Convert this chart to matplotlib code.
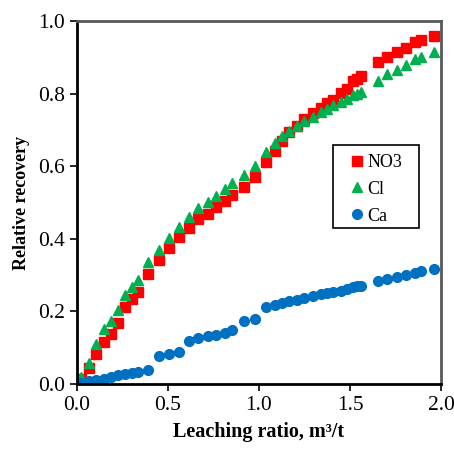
import numpy as np
import matplotlib.pyplot as plt
from matplotlib.patches import Rectangle

plt.rcParams['font.family'] = ['Liberation Serif', 'DejaVu Serif']

# Leaching ratio (m3/t)
ratio = [0.022, 0.066, 0.106, 0.147, 0.185, 0.224, 0.265, 0.304, 0.337, 0.392,
         0.452, 0.507, 0.560, 0.614, 0.667, 0.718, 0.765, 0.815, 0.853, 0.918,
         0.980, 1.038, 1.086, 1.128, 1.166, 1.207, 1.249, 1.295, 1.339, 1.372,
         1.408, 1.449, 1.485, 1.518, 1.540, 1.559, 1.652, 1.702, 1.758, 1.808,
         1.857, 1.888, 1.960]

no3 = [0.014, 0.043, 0.083, 0.116, 0.138, 0.168, 0.211, 0.233, 0.253, 0.303,
       0.342, 0.374, 0.404, 0.430, 0.454, 0.467, 0.487, 0.504, 0.520, 0.542,
       0.569, 0.611, 0.642, 0.669, 0.695, 0.711, 0.731, 0.746, 0.761, 0.773,
       0.782, 0.801, 0.812, 0.835, 0.840, 0.848, 0.886, 0.902, 0.916, 0.927,
       0.941, 0.949, 0.959]

cl = [0.019, 0.059, 0.109, 0.152, 0.174, 0.203, 0.244, 0.267, 0.287, 0.335,
      0.370, 0.403, 0.433, 0.459, 0.485, 0.501, 0.518, 0.537, 0.554, 0.576,
      0.601, 0.638, 0.664, 0.682, 0.698, 0.710, 0.725, 0.736, 0.749, 0.758,
      0.768, 0.777, 0.784, 0.795, 0.800, 0.804, 0.836, 0.853, 0.865, 0.878,
      0.895, 0.901, 0.914]

ca = [0.002, 0.008, 0.012, 0.015, 0.020, 0.024, 0.027, 0.029, 0.033, 0.039,
      0.076, 0.082, 0.089, 0.119, 0.126, 0.131, 0.135, 0.140, 0.148, 0.174,
      0.180, 0.211, 0.218, 0.223, 0.228, 0.231, 0.236, 0.242, 0.247, 0.250,
      0.253, 0.257, 0.262, 0.266, 0.269, 0.271, 0.283, 0.288, 0.295, 0.299,
      0.307, 0.310, 0.318]

fig = plt.figure(figsize=(4.54, 4.49), dpi=100)
ax = fig.add_axes([0.1696, 0.1448, 0.8018, 0.8084])

ax.plot(ratio, no3, 's', color='#FF0000', markersize=6.5, label='NO3')
ax.plot(ratio, cl, '^', color='#00B050', markersize=7.5, label='Cl')
ax.plot(ratio, ca, 'o', color='#0070C0', markersize=7, label='Ca')

ax.set_xlim(0, 2.0)
ax.set_ylim(0, 1.0)
ax.set_xticks(np.arange(0, 2.01, 0.5))
ax.set_yticks(np.arange(0, 1.01, 0.2))
ax.xaxis.set_major_formatter(plt.FormatStrFormatter('%.1f'))
ax.yaxis.set_major_formatter(plt.FormatStrFormatter('%.1f'))
ax.tick_params(direction='out', length=5, width=1.2, labelsize=15.5, pad=3.5)

for s in ['left', 'bottom']:
    ax.spines[s].set_linewidth(2)
    ax.spines[s].set_color('black')
for s in ['top', 'right']:
    ax.spines[s].set_linewidth(2)
    ax.spines[s].set_color('#595959')

ax.set_xlabel('Leaching ratio, m³/t', fontsize=14.5, fontweight='bold', labelpad=5)
ax.set_ylabel('Relative recovery', fontsize=13, fontweight='bold', labelpad=6)

# legend box
ax.add_patch(Rectangle((0.703, 0.430), 0.237, 0.228, transform=ax.transAxes,
                       fill=False, edgecolor='black', linewidth=1.2, zorder=5))
ax.legend(loc='upper left', bbox_to_anchor=(0.745, 0.634), fontsize=13,
          frameon=False, borderpad=0, borderaxespad=0, handletextpad=0.05,
          handlelength=1.0, labelspacing=0.55)

fig.savefig('out.png', dpi=100)
